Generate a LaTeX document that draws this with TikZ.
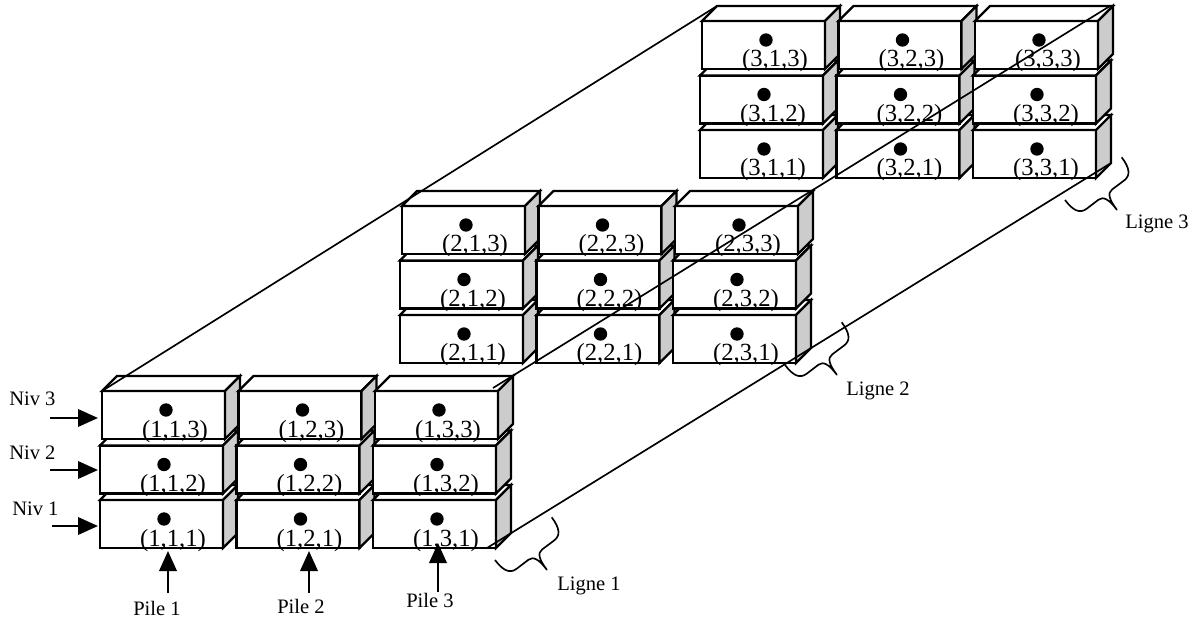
\documentclass[tikz,border=0pt]{standalone}
\usepackage{fontspec}
\setmainfont{Liberation Serif}
\usetikzlibrary{arrows.meta}
\definecolor{sidegray}{RGB}{204,204,204}
\tikzset{
  boxline/.style={line width=1.6pt, line join=miter},
  diag/.style={line width=1.25pt},
  bracel/.style={line width=1.25pt, line join=round},
  arr/.style={line width=1.9pt, -{Triangle[length=15pt,width=13pt]}},
  boxlbl/.style={font=\fontsize{18.5pt}{20pt}\selectfont, inner sep=0pt},
  lbl/.style={font=\fontsize{15.4pt}{17pt}\selectfont, inner sep=0pt},
  pics/crate/.style={code={
    \draw[boxline,fill=white] (0,0) rectangle (123,-48);
    \draw[boxline,fill=white] (0,-48) -- (15,-63) -- (138,-63) -- (123,-48) -- cycle;
    \draw[boxline,fill=sidegray] (123,0) -- (138,-15) -- (138,-63) -- (123,-48) -- cycle;
    \fill (64,-29) circle[radius=5pt];
    \node[boxlbl,anchor=base] (-t) at (73,-2) {#1};
  }},
  pics/rowbrace/.style={code={
    \draw[bracel] (0,0) .. controls (8.4,11.2) and (15.2,13.6) .. (21.6,8.8)
      -- (33.5,-0.3) .. controls (38.3,-3.9) and (44.0,-0.7) .. (51.8,9.7)
      .. controls (44.0,-0.7) and (42.3,-6.9) .. (47.1,-10.5)
      -- (59.1,-19.5) .. controls (65.5,-24.3) and (65.1,-31.5) .. (56.7,-42.7);
  }}
}
\begin{document}
\begin{tikzpicture}[x=0.75pt,y=-0.75pt]
\useasboundingbox (0,0) rectangle (1200,620);
\fill[white] (0,0) rectangle (1200,620);

% crates
\foreach \r in {1,2,3}{
  \foreach \c in {1,2,3}{
    \foreach \l in {1,2,3}{
      \pgfmathsetmacro\bx{100+300*(\r-1)+136.5*(\c-1)+(\l==3?2:0)}
      \pgfmathsetmacro\by{548-185*(\r-1)-54.5*(\l-1)}
      \pic (b\r\c\l) at (\bx,\by) {crate={(\r,\c,\l)}};
    }
  }
}

% diagonal guide lines
\coordinate (a1) at (102,391); \coordinate (a2) at (717,6);
\coordinate (bb1) at (493,388); \coordinate (bb2) at (1110,6);
\coordinate (c1) at (487,548); \coordinate (c2) at (1111,163);
\draw[diag] (a1) -- (a2);
\draw[diag] (bb1) -- (bb2);
\draw[diag] (c1) -- (c2);

% row braces
\pic (br1) at (495,560) {rowbrace};
\pic (br2) at (785,365) {rowbrace};
\pic (br3) at (1065,200) {rowbrace};
\node[lbl,anchor=base west] (l1) at (557,590) {Ligne 1};
\node[lbl,anchor=base west] (l2) at (846,396) {Ligne 2};
\node[lbl,anchor=base west] (l3) at (1125,229) {Ligne 3};

% level arrows
\node[lbl,anchor=base west] (niv3) at (9,405) {Niv 3};
\node[lbl,anchor=base west] (niv2) at (9,459) {Niv 2};
\node[lbl,anchor=base west] (niv1) at (12,515) {Niv 1};
\coordinate (n3s) at (50,418); \coordinate (n3e) at (98,418);
\coordinate (n2s) at (50,470); \coordinate (n2e) at (98,470);
\coordinate (n1s) at (52,526); \coordinate (n1e) at (98,526);
\draw[arr] (n3s) -- (n3e);
\draw[arr] (n2s) -- (n2e);
\draw[arr] (n1s) -- (n1e);

% pile arrows
\node[lbl,anchor=base] (pile1) at (157,615) {Pile 1};
\node[lbl,anchor=base] (pile2) at (301,613) {Pile 2};
\node[lbl,anchor=base] (pile3) at (430,607) {Pile 3};
\coordinate (p1s) at (168,593); \coordinate (p1e) at (168,551);
\coordinate (p2s) at (309,593); \coordinate (p2e) at (309,551);
\coordinate (p3s) at (438,592); \coordinate (p3e) at (438,543);
\draw[arr] (p1s) -- (p1e);
\draw[arr] (p2s) -- (p2e);
\draw[arr] (p3s) -- (p3e);
\end{tikzpicture}
\end{document}
